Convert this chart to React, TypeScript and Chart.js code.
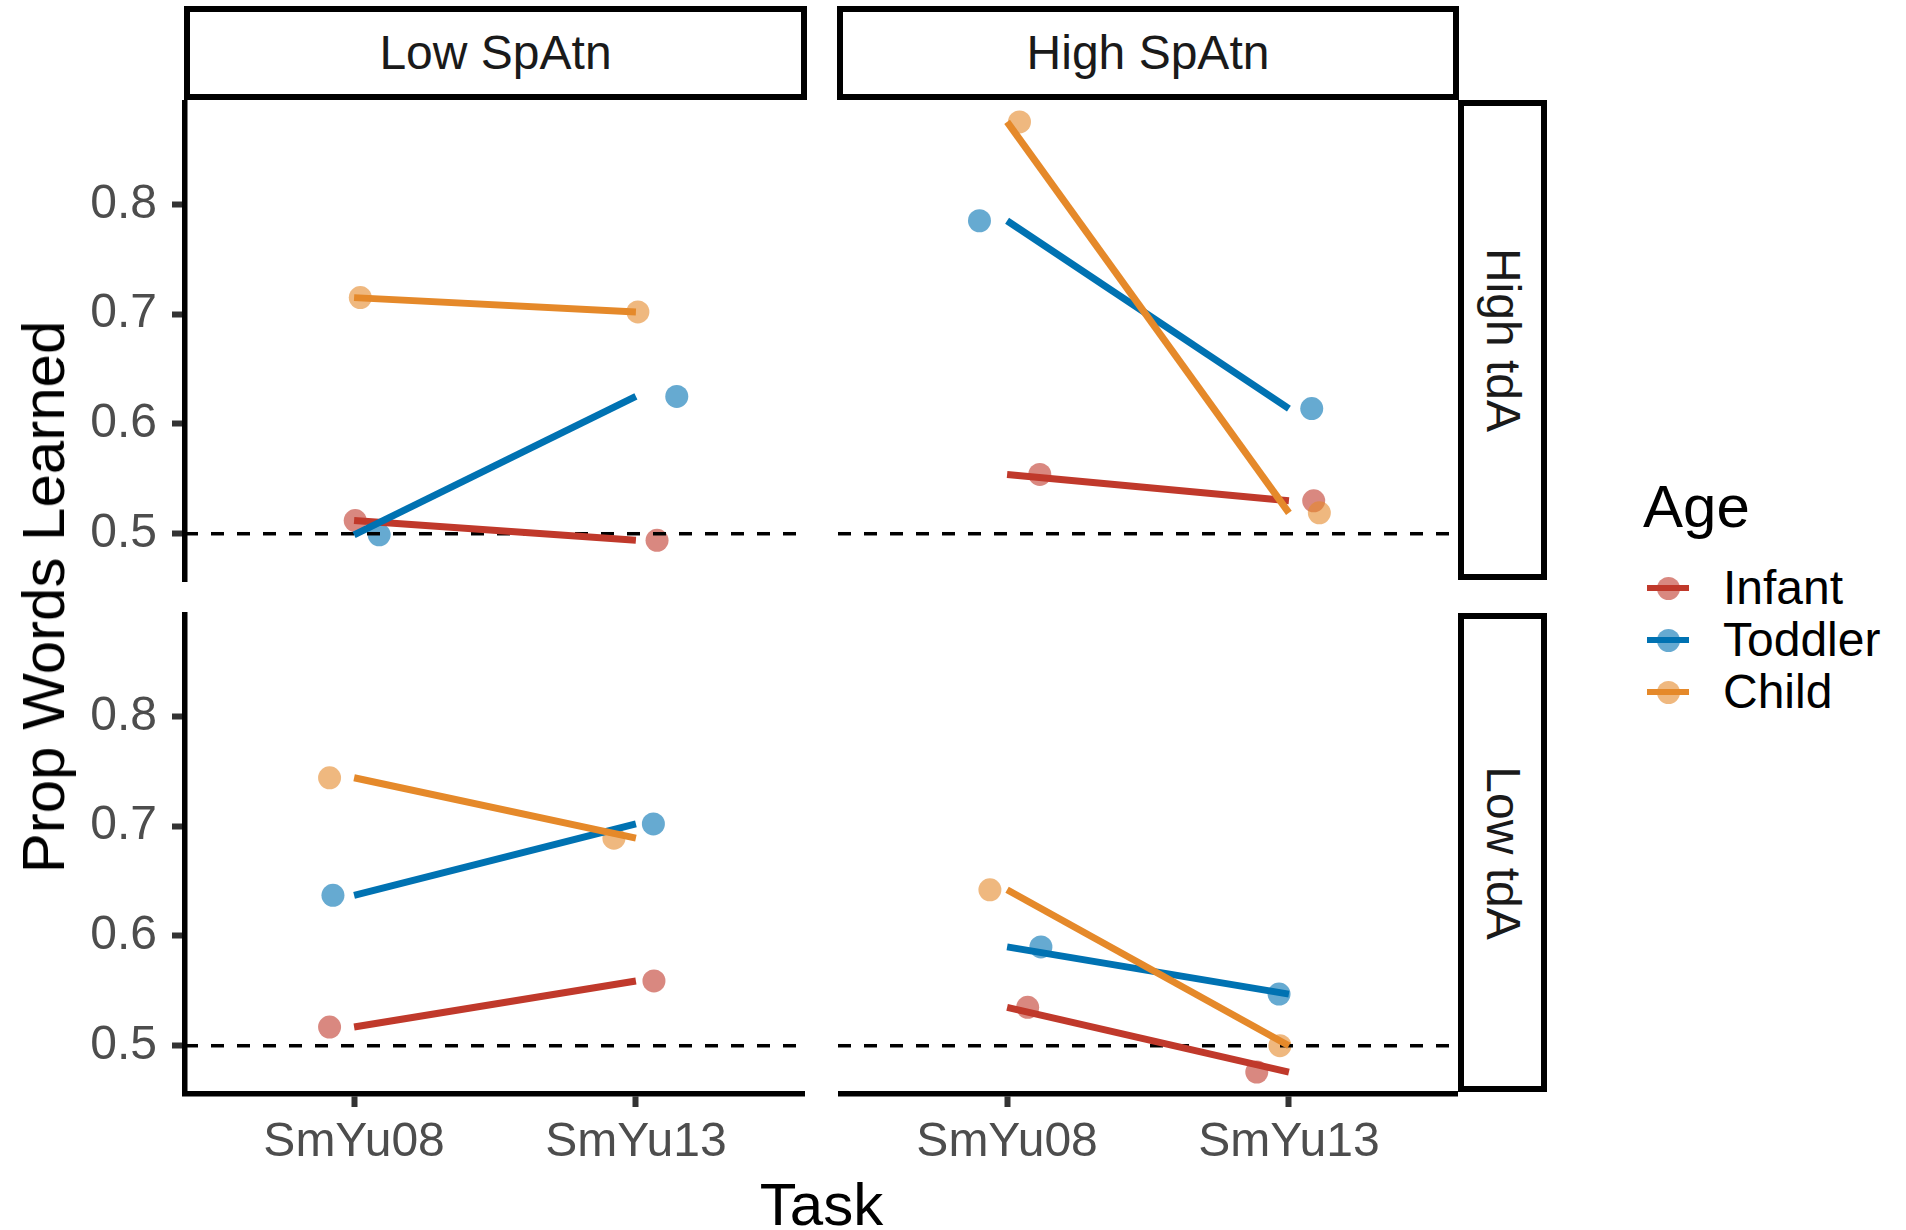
import React, { useEffect, useRef } from 'react';
import { Chart, registerables } from 'chart.js';

Chart.register(...registerables);

// ---------------- data ----------------
const tasks = ['SmYu08', 'SmYu13'];
const ages = ['Infant', 'Toddler', 'Child'];
const colFacets = ['Low SpAtn', 'High SpAtn'];
const rowFacets = ['High tdA', 'Low tdA'];
const yTickValues = [0.5, 0.6, 0.7, 0.8];
const chanceLevel = 0.5;

const lineColors = ['#C0392B', '#0072B2', '#E5892A'];
const pointColors = ['rgba(192,57,43,0.6)', 'rgba(0,114,178,0.6)', 'rgba(229,137,42,0.6)'];

// Prop words learned, rows = Infant, Toddler, Child; columns = SmYu08, SmYu13
const valsHighTdALowSpAtn = [[0.512, 0.494], [0.499, 0.625], [0.715, 0.702]];
const valsHighTdAHighSpAtn = [[0.554, 0.530], [0.785, 0.614], [0.875, 0.519]];
const valsLowTdALowSpAtn = [[0.517, 0.559], [0.637, 0.702], [0.744, 0.689]];
const valsLowTdAHighSpAtn = [[0.535, 0.476], [0.590, 0.547], [0.642, 0.500]];

// horizontal jitter of the points (in task units)
const jitHighTdALowSpAtn = [[0.004, 0.075], [0.089, 0.145], [0.022, 0.007]];
const jitHighTdAHighSpAtn = [[0.116, 0.088], [-0.098, 0.081], [0.044, 0.108]];
const jitLowTdALowSpAtn = [[-0.087, 0.064], [-0.075, 0.062], [-0.087, -0.078]];
const jitLowTdAHighSpAtn = [[0.073, -0.114], [0.12, -0.035], [-0.061, -0.032]];

// ---------------- scale limits (ggplot-like expansion) ----------------
const allVals = [valsHighTdALowSpAtn, valsHighTdAHighSpAtn, valsLowTdALowSpAtn, valsLowTdAHighSpAtn].flat(2);
const dMin = Math.min(...allVals);
const dMax = Math.max(...allVals);
const yMin = dMin - 0.05 * (dMax - dMin);
const yMax = dMax + 0.05 * (dMax - dMin);
const xMin = 1 - 0.6;
const xMax = tasks.length + 0.6;

const FONT = "'Liberation Sans', Arial, Helvetica, sans-serif";
const SMALL = 48;
const BIG = 60;

type PanelProps = {
  vals: number[][];
  jit: number[][];
  showX: boolean;
  showY: boolean;
  left: number;
  top: number;
  width: number;
  height: number;
};

function Panel({ vals, jit, showX, showY, left, top, width, height }: PanelProps) {
  const ref = useRef<HTMLCanvasElement | null>(null);
  useEffect(() => {
    if (!ref.current) return;
    const datasets: any[] = [];
    ages.forEach((age, i) => {
      datasets.push({
        label: age + ' mean',
        data: tasks.map((_, j) => ({ x: j + 1, y: vals[i][j] })),
        showLine: true,
        borderColor: lineColors[i],
        backgroundColor: lineColors[i],
        borderWidth: 7,
        pointRadius: 0,
        clip: false,
        order: 2 - i,
      });
    });
    datasets.push({
      label: 'chance',
      data: [{ x: xMin, y: chanceLevel }, { x: xMax, y: chanceLevel }],
      showLine: true,
      borderColor: '#000000',
      borderWidth: 3.5,
      borderDash: [13, 13],
      pointRadius: 0,
      order: 3,
    });
    ages.forEach((age, i) => {
      datasets.push({
        label: age,
        data: tasks.map((_, j) => ({ x: j + 1 + jit[i][j], y: vals[i][j] })),
        showLine: false,
        pointRadius: 11.5,
        pointBackgroundColor: pointColors[i],
        backgroundColor: pointColors[i],
        pointBorderWidth: 0,
        borderWidth: 0,
        clip: false,
        order: 6 - i,
      });
    });

    const tickFont = { family: FONT, size: SMALL };
    const chart = new Chart(ref.current, {
      type: 'scatter',
      data: { datasets },
      options: {
        animation: false,
        responsive: false,
        maintainAspectRatio: false,
        devicePixelRatio: 1,
        events: [],
        layout: { padding: 0, autoPadding: false },
        plugins: { legend: { display: false }, tooltip: { enabled: false }, title: { display: false } },
        scales: {
          x: {
            type: 'linear',
            display: showX,
            min: xMin,
            max: xMax,
            afterBuildTicks: (s: any) => {
              s.ticks = tasks.map((_, j) => ({ value: j + 1 }));
            },
            afterFit: (s: any) => {
              if (!showX) return;
              s.height = 100;
              s.paddingLeft = 0;
              s.paddingRight = 0;
            },
            ticks: {
              callback: (v: any) => tasks[Math.round(Number(v)) - 1] ?? '',
              font: tickFont,
              color: '#4D4D4D',
              padding: 7,
              maxRotation: 0,
              autoSkip: false,
            },
            grid: {
              display: true,
              drawOnChartArea: false,
              drawTicks: true,
              tickLength: 13,
              tickWidth: 6,
              tickColor: '#333333',
            },
            border: { display: true, color: '#000000', width: 5.5 },
          },
          y: {
            type: 'linear',
            display: showY,
            min: yMin,
            max: yMax,
            afterBuildTicks: (s: any) => {
              s.ticks = yTickValues.map((v) => ({ value: v }));
            },
            afterFit: (s: any) => {
              if (!showY) return;
              s.width = 185;
              s.paddingTop = 0;
              s.paddingBottom = 0;
            },
            ticks: {
              callback: (v: any) => Number(v).toFixed(1),
              font: tickFont,
              color: '#4D4D4D',
              padding: 15,
            },
            grid: {
              display: true,
              drawOnChartArea: false,
              drawTicks: true,
              tickLength: 13,
              tickWidth: 6,
              tickColor: '#333333',
            },
            border: { display: true, color: '#000000', width: 5.5 },
          },
        },
      } as any,
    });
    return () => chart.destroy();
  }, []);
  return (
    <canvas
      ref={ref}
      width={width}
      height={height}
      style={{ position: 'absolute', left, top, width, height, display: 'block' }}
    />
  );
}

const stripStyle: React.CSSProperties = {
  position: 'absolute',
  boxSizing: 'border-box',
  border: '6px solid #000',
  background: '#fff',
};

function CenteredText({ text, cx, cy, size, rotate = 0, color = '#000' }: { text: string; cx: number; cy: number; size: number; rotate?: number; color?: string }) {
  return (
    <div
      style={{
        position: 'absolute',
        left: cx,
        top: cy,
        transform: `translate(-50%, -50%) rotate(${rotate}deg)`,
        fontSize: size,
        lineHeight: `${size}px`,
        whiteSpace: 'nowrap',
        color,
        fontFamily: FONT,
      }}
    >
      {text}
    </div>
  );
}

export default function App() {
  const panelH = 482;
  const leftW = 805;
  const rightL = 838;
  const rightW = 620;
  const topT = 100;
  const botT = 612;
  const legendRowsY = [588, 640, 692];
  return (
    <div style={{ position: 'absolute', left: 0, top: 0, width: 1906, height: 1230, background: '#fff', fontFamily: FONT, overflow: 'hidden' }}>
      {/* column strips */}
      <div style={{ ...stripStyle, left: 184, top: 6, width: 623, height: 94 }} />
      <div style={{ ...stripStyle, left: 837, top: 6, width: 622, height: 94 }} />
      <CenteredText text={colFacets[0]} cx={495.5} cy={53} size={SMALL} color="#1A1A1A" />
      <CenteredText text={colFacets[1]} cx={1148} cy={53} size={SMALL} color="#1A1A1A" />
      {/* row strips */}
      <div style={{ ...stripStyle, left: 1458, top: 100, width: 89, height: 480 }} />
      <div style={{ ...stripStyle, left: 1458, top: 613, width: 89, height: 479 }} />
      <CenteredText text={rowFacets[0]} cx={1502.5} cy={340} size={SMALL} rotate={90} color="#1A1A1A" />
      <CenteredText text={rowFacets[1]} cx={1502.5} cy={852.5} size={SMALL} rotate={90} color="#1A1A1A" />

      <Panel vals={valsHighTdALowSpAtn} jit={jitHighTdALowSpAtn} showX={false} showY={true} left={0} top={topT} width={leftW} height={panelH} />
      <Panel vals={valsHighTdAHighSpAtn} jit={jitHighTdAHighSpAtn} showX={false} showY={false} left={rightL} top={topT} width={rightW} height={panelH} />
      <Panel vals={valsLowTdALowSpAtn} jit={jitLowTdALowSpAtn} showX={true} showY={true} left={0} top={botT} width={leftW} height={panelH + 100} />
      <Panel vals={valsLowTdAHighSpAtn} jit={jitLowTdAHighSpAtn} showX={true} showY={false} left={rightL} top={botT} width={rightW} height={panelH + 100} />

      {/* axis titles */}
      <CenteredText text="Prop Words Learned" cx={43.5} cy={597} size={BIG} rotate={-90} />
      <CenteredText text="Task" cx={821.5} cy={1205} size={BIG} />

      {/* legend */}
      <div style={{ position: 'absolute', left: 1643, top: 477, fontSize: BIG, lineHeight: `${BIG}px`, whiteSpace: 'nowrap' }}>Age</div>
      {ages.map((age, i) => (
        <React.Fragment key={age}>
          <div
            style={{
              position: 'absolute',
              left: 1668 - 11.5,
              top: legendRowsY[i] - 11.5,
              width: 23,
              height: 23,
              borderRadius: '50%',
              background: pointColors[i],
            }}
          />
          <div style={{ position: 'absolute', left: 1647, top: legendRowsY[i] - 3, width: 42, height: 6, background: lineColors[i] }} />
          <div style={{ position: 'absolute', left: 1723, top: legendRowsY[i] - SMALL / 2, fontSize: SMALL, lineHeight: `${SMALL}px`, whiteSpace: 'nowrap' }}>{age}</div>
        </React.Fragment>
      ))}
    </div>
  );
}
